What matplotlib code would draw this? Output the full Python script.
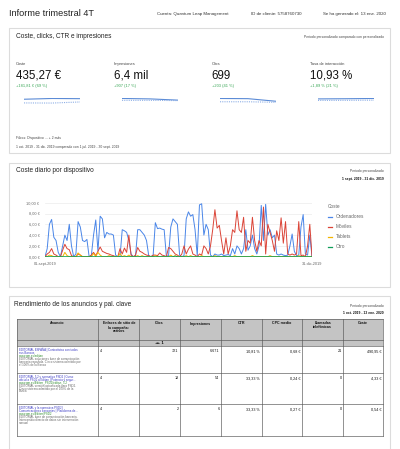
import matplotlib
matplotlib.use("Agg")
import matplotlib.pyplot as plt
from matplotlib.patches import Rectangle
from matplotlib.lines import Line2D

plt.rcParams['font.family'] = ['Liberation Sans', 'DejaVu Sans']

# ---- data ----
kpi_labels = ["Coste", "Impresiones", "Clics", "Tasa de interacción"]
kpi_values = ["435,27 €", "6,4 mil", "699", "10,93 %"]
kpi_deltas = ["+181,81 € (69 %)", "+907 (17 %)", "+203 (41 %)", "+1,89 % (21 %)"]
# monthly sparkline values (oct, nov, dic) current vs previous period
spark_cur = [[138, 150, 147], [2300, 2200, 1900], [260, 255, 184], [10.7, 10.9, 11.2]]
spark_prev = [[80, 78, 95], [1850, 1850, 1793], [170, 170, 156], [8.9, 9.0, 9.2]]

devices = ["Ordenadores", "Móviles", "Tablets", "Otro"]
dev_colors = ["#4a86e8", "#db4437", "#f4b400", "#0f9d58"]
date_labels = ["01-sept-2019", "31-dic-2019"]
ordenadores = [0, 1.5, 6.0, 6.9, 3.6, 3.0, 0.8,
               0, 2.0, 4.0, 3.0, 6.0, 2.0, 0,
               0.5, 6.5, 5.5, 3.0, 2.8, 3.2, 0,
               0.2, 4.0, 6.8, 1.0, 7.5, 7.0, 3.5,
               4.5, 4.2, 4.2, 4.0, 0.3, 0, 0,
               5.0, 4.8, 4.5, 3.0, 0.5, 0, 0,
               5.0, 5.0, 4.5, 4.0, 3.0, 0.2, 0,
               0.2, 6.3, 5.2, 5.3, 5.1, 5.0, 0.1,
               0.2, 5.5, 7.0, 6.5, 6.0, 0.3, 0,
               0.2, 7.0, 8.3, 7.5, 7.8, 5.0, 0.2,
               9.6, 9.8, 4.0, 6.0, 5.0, 0.3, 0,
               0.5, 0.3, 0.3, 0.5, 0.2, 0.3, 0.4,
               0.2, 1.5, 0.5, 2.0, 1.5, 0.5, 1.5,
               5.0, 1.2, 2.0, 4.0, 1.5, 0.5, 2.0,
               9.5, 3.0, 9.7, 4.0, 5.0, 3.5, 4.0,
               0.5, 0.3, 0.5, 0.3, 0.2, 0.3, 2.0,
               4.2, 1.0, 0.2, 0.3, 5.5, 7.8, 0.5,
               0.3, 4.0, 0]
moviles = [0, 0.5, 0.8, 1.5, 0.5, 0.3, 0,
           0, 1.2, 2.3, 1.5, 1.3, 0.2, 0,
           0, 0.5, 0.3, 0, 0, 0, 0,
           0.3, 0.8, 0.2, 1.0, 1.8, 1.0, 0.8,
           0.6, 0.5, 0.3, 0.2, 0, 0, 1.5,
           0.5, 1.6, 0.8, 4.0, 0.3, 0, 0.3,
           1.7, 1.0, 0.8, 0.5, 0.3, 0.2, 0,
           0.3, 0.3, 0.2, 0.7, 0.3, 0.2, 0,
           1.7, 1.5, 1.0, 0.5, 0.3, 0, 0.5,
           2.0, 0.5, 1.4, 2.0, 0.5, 0.3, 0,
           0.5, 0.3, 2.0, 1.5, 0.5, 2.0, 5.0,
           8.7, 5.3, 5.8, 3.0, 0.5, 3.5, 0.5,
           2.0, 5.0, 4.5, 8.5, 5.0, 4.5, 7.3,
           1.0, 3.0, 2.5, 7.3, 3.0, 1.0, 3.0,
           2.0, 9.2, 0.5, 6.0, 4.5, 3.0, 1.0,
           4.8, 3.0, 7.2, 2.5, 6.5, 0.5, 0.3,
           0.5, 0.3, 0.5, 6.5, 0.2, 0.3, 0,
           2.0, 6.0, 0]
tablets = [0, 0, 0.3, 0.2, 0, 0, 0,
           0, 0, 0.8, 0.2, 0, 0, 0,
           0, 0.7, 0.3, 0, 0, 0, 0,
           0, 0.6, 0, 0.8, 0.3, 0, 0,
           0, 0.2, 0, 0, 0, 0, 0.6,
           0, 0.2, 0, 0.3, 0, 0, 0,
           0.2, 0, 0.2, 0, 0, 0, 0,
           0, 0.2, 0, 0, 0, 0, 0,
           0, 0.3, 0, 0.2, 0, 0, 0,
           0, 0.2, 0, 0.2, 0, 0, 0,
           0, 0.2, 0, 0, 0, 0, 0,
           0.2, 0, 0, 0, 0, 0, 0,
           0, 0, 0.2, 0, 0, 0, 0,
           0, 0, 0, 0.2, 0, 0, 0,
           0, 0, 0, 0, 0.2, 0, 0,
           0, 0, 0, 0, 0, 0, 0,
           0, 0, 0, 0.2, 0, 0, 0,
           0, 0, 0]
otro = [0, 0, 0, 0, 0, 0, 0,
        0, 0, 0, 0, 0, 0, 0,
        0, 0, 0, 0, 0, 0, 0,
        0, 0, 0, 0, 0, 0, 0,
        0, 0, 0, 0, 0, 0, 0,
        0, 0, 0, 0, 0, 0, 0,
        0, 0, 0, 0, 0, 0, 0,
        0, 0, 0, 0, 0, 0, 0,
        0, 0, 0, 0.1, 0, 0, 0,
        0, 0, 0, 0, 0, 0, 0,
        0, 0, 0, 0, 0, 0, 0,
        0, 0, 0, 0, 0, 0, 0,
        0, 0, 0, 0, 0, 0, 0,
        0, 0, 0, 0, 0, 0, 0,
        0, 0, 0, 0, 0, 0, 0,
        0, 0, 0, 0, 0, 0, 0,
        0, 0, 0, 0, 0, 0, 0,
        0, 0, 0]
y_ticks = [0, 2, 4, 6, 8, 10]

table_headers = ["Anuncio", "Enlaces de sitio de\nla campaña:\nactivos", "Clics", "Impresiones",
                 "CTR", "CPC medio", "Llamadas\ntelefónicas", "Coste"]
ad_titles = [["EDITORIAL ESPAÑA | Contratistas con todos", "sus Bancos"],
             ["EDITORIAL 5.2 y normativa PSD2 | Curso", "oficial a PSD2 a Editan | Potencia y segur..."],
             ["EDITORIAL y la normativa PSD2 |", "Comunicaciones bancarias | Plataforma de..."]]
ad_urls = ["www.gm.es/editan", "www.gm.es/Editan_PSD2/editan_5.2", "www.gm.es/Editan/PSD2"]
ad_desc = [["EDITORIAL soluciones base de comunicación", "bancaria española. Cinco sistema admitido por",
            "el 100% de la Banca"],
           ["EDITORIAL versión actualizada para PSD2.", "Cinco sistema admitido por el 100% de la",
            "Banca"],
           ["EDITORIAL base de comunicación bancaria.", "Intercambio directo de datos sin intervención",
            "manual"]]
sitelinks = ["4", "4", "4"]
clics = ["721", "18", "2"]
impresiones = ["6.671", "54", "6"]
ctr = ["10,81 %", "33,33 %", "33,33 %"]
cpc = ["0,68 €", "0,24 €", "0,27 €"]
llamadas = ["21", "0", "0"]
coste = ["490,95 €", "4,33 €", "0,54 €"]

# ---- layout helpers (pixel coords, origin top-left) ----
W, H = 400, 449
fig = plt.figure(figsize=(4, 4.49), dpi=100)


def fx(x):
    return x / W


def fy(y):
    return 1 - y / H


def txt(x, y, s, size, **kw):
    kw.setdefault("va", "center")
    fig.text(fx(x), fy(y), s, fontsize=size, **kw)


def box(x0, y0, x1, y1, **kw):
    fig.add_artist(Rectangle((fx(x0), fy(y1)), (x1 - x0) / W, (y1 - y0) / H,
                             transform=fig.transFigure, **kw))


def hline(x0, x1, y, **kw):
    fig.add_artist(Line2D([fx(x0), fx(x1)], [fy(y), fy(y)], transform=fig.transFigure, **kw))


def vline(x, y0, y1, **kw):
    fig.add_artist(Line2D([fx(x), fx(x)], [fy(y0), fy(y1)], transform=fig.transFigure, **kw))


# header
txt(9, 13, "Informe trimestral 4T", 6.6, color="#222222")
txt(157, 14, "Cuenta: Quantum Leap Management", 3.2, color="#333333")
txt(251, 14, "ID de cliente: 5758760730", 3.2, color="#333333")
txt(323, 14, "Se ha generado el: 13 ene. 2020", 3.2, color="#333333")

panel_kw = dict(facecolor="none", edgecolor="#dcdcdc", linewidth=0.8)

# ---- panel 1 ----
box(9, 28, 390, 153, **panel_kw)
txt(16, 36, "Coste, clicks, CTR e impresiones", 4.7, color="#222222")
txt(384, 37, "Periodo personalizado comparado con personalizado", 2.4, color="#444444", ha="right")
for i in range(4):
    x = 16 + 98 * i
    txt(x, 64, kpi_labels[i], 2.9, color="#444444")
    txt(x - 0.5, 76, kpi_values[i], 8.3, color="#111111")
    txt(x, 86, kpi_deltas[i], 2.9, color="#3aa757")
    sax = fig.add_axes([fx(x + 8), fy(108), 56 / W, 10 / H])
    sax.plot(spark_cur[i], color="#5b8bd6", lw=0.8)
    sax.plot(spark_prev[i], color="#8fb0e6", lw=0.8, ls=(0, (1, 1)))
    sax.set_ylim(0, max(spark_cur[i] + spark_prev[i]) * 1.05)
    sax.set_xlim(0, len(spark_cur[i]) - 1)
    sax.axis("off")
txt(16, 138, "Filtros: Dispositivo ... + 2 más", 2.4, color="#444444")
txt(16, 147, "1 oct. 2019 - 31 dic. 2019 comparado con 1 jul. 2019 - 30 sept. 2019", 2.4, color="#444444")

# ---- panel 2 ----
box(9, 163, 390, 287, **panel_kw)
txt(16, 171, "Coste diario por dispositivo", 4.7, color="#222222")
txt(384, 171, "Periodo personalizado", 2.4, color="#444444", ha="right")
txt(384, 179, "1 sept. 2019 - 31 dic. 2019", 2.4, color="#111111", ha="right", fontweight="bold")

ax = fig.add_axes([fx(45), fy(256.7), (312 - 45) / W, (256.7 - 202.7) / H])
series = [ordenadores, moviles, tablets, otro]
for vals, c in zip(series, dev_colors):
    ax.plot(range(len(vals)), vals, color=c, lw=0.7)
ax.set_ylim(0, 10)
ax.set_xlim(0, len(ordenadores) - 1)
ax.set_yticks(y_ticks)
ax.set_yticklabels([f"{v:.2f} €".replace(".", ",") for v in y_ticks])
ax.set_xticks([0, len(ordenadores) - 1])
ax.set_xticklabels(date_labels)
ax.tick_params(length=0, labelsize=2.8, labelcolor="#666666", pad=4)
ax.grid(axis="y", color="#ebebeb", lw=0.5)
ax.set_axisbelow(True)
for s in ax.spines.values():
    s.set_visible(False)
ax.set_facecolor("none")

txt(328, 207, "Coste", 3.4, color="#666666")
for i, (name, c) in enumerate(zip(devices, dev_colors)):
    y = 216.7 + 10 * i
    hline(328, 332, y, color=c, lw=0.9)
    txt(336, y, name, 3.4, color="#666666")

# ---- panel 3 ----
box(9, 296, 390, 452, **panel_kw)
txt(14, 305, "Rendimiento de los anuncios y pal. clave", 4.7, color="#222222")
txt(384, 306, "Periodo personalizado", 2.4, color="#444444", ha="right")
txt(384, 313, "1 oct. 2019 - 13 ene. 2020", 2.4, color="#111111", ha="right", fontweight="bold")

cols = [16.7, 98.3, 139.3, 180, 221, 261.7, 302.3, 343.3, 383.3]
rows = [319.3, 340, 346.3, 373.3, 404.3, 436]
line_kw = dict(color="#555555", lw=0.45)
box(cols[0], rows[0], cols[-1], rows[2], facecolor="#c4c4c4", edgecolor="none")
for j, h in enumerate(table_headers):
    cx = (cols[j] + cols[j + 1]) / 2
    txt(cx, 321.5, h, 2.6, color="#111111", ha="center", va="top", fontweight="bold",
        linespacing=1.0)
txt((cols[2] + cols[3]) / 2, 343.2, "◄► 1", 2.4, color="#111111", ha="center",
    fontweight="bold", family=["DejaVu Sans"])
for y in rows:
    hline(cols[0], cols[-1], y, **line_kw)
for x in cols:
    vline(x, rows[0], rows[-1], **line_kw)

step = 2.9
for r in range(3):
    top = rows[2 + r] + 2.5
    lines = ([(s, "#3b3bc4") for s in ad_titles[r]] + [(ad_urls[r], "#2e8b2e")]
             + [(s, "#666666") for s in ad_desc[r]])
    for k, (s, c) in enumerate(lines):
        txt(cols[0] + 2, top + 1.2 + k * step, s, 2.05, color=c)
    txt(cols[1] + 1.5, top + 0.5, sitelinks[r], 2.7, color="#111111", va="top")
    cells = [clics[r], impresiones[r], ctr[r], cpc[r], llamadas[r], coste[r]]
    for k, v in enumerate(cells):
        txt(cols[k + 3] - 1.5, top + 0.5, v, 2.7, color="#111111", va="top", ha="right")

fig.savefig("out.png", dpi=100, facecolor="white")
